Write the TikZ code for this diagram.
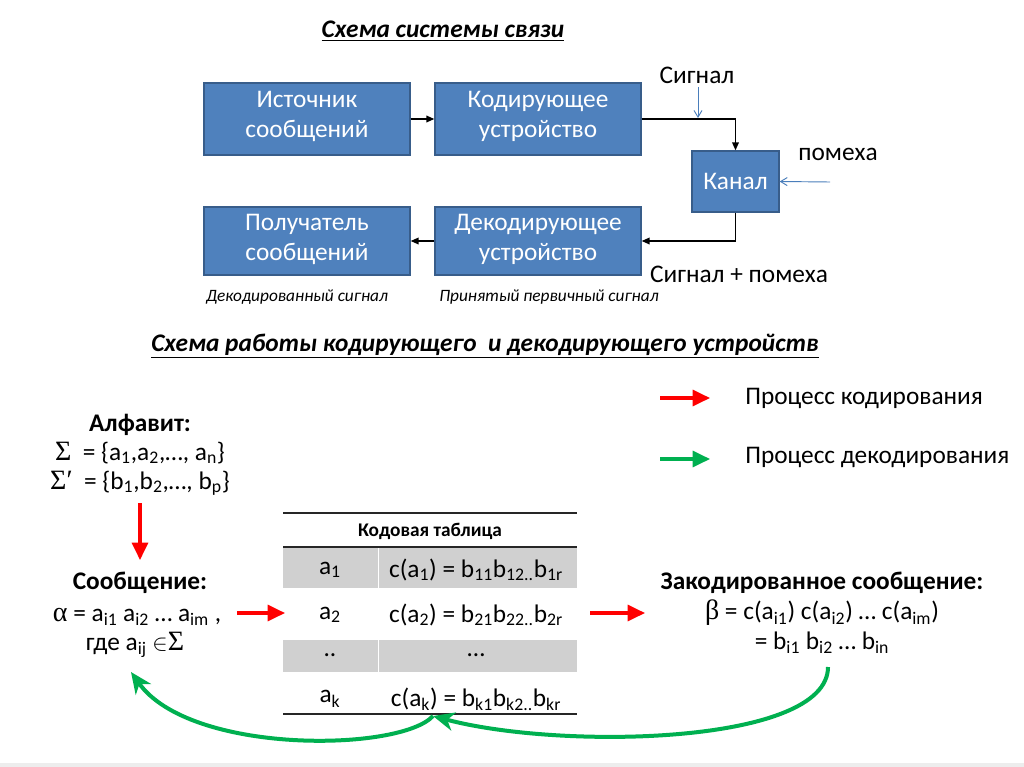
\documentclass[tikz,border=0pt]{standalone}
\usepackage{fontspec}
\setmainfont{Carlito}
\newfontfamily\symf{Liberation Serif}
\usetikzlibrary{arrows.meta}
\definecolor{boxblue}{HTML}{4F81BD}
\definecolor{boxborder}{HTML}{385D8A}
\definecolor{sigblue}{HTML}{4A7EBB}
\definecolor{arrred}{HTML}{FF0000}
\definecolor{arrgreen}{HTML}{00B050}
\definecolor{rowgray}{HTML}{D0D0D0}
\newcommand{\fs}[2]{\fontsize{#1}{#2}\selectfont}
\newcommand{\sbx}[1]{\textsubscript{#1}}
\tikzset{
  blockbox/.style={draw=boxborder, line width=1pt, fill=boxblue, text=white, font=\fs{19}{22.5}, align=center, inner sep=0pt, minimum width=154.5pt},
  blk/.style={draw=black, line width=1.1pt, -{Triangle[length=6pt,width=5pt]}},
  bluearr/.style={draw=sigblue, line width=0.7pt, -{Straight Barb[length=5pt,width=6pt]}},
  redarr/.style={draw=arrred, line width=2.3pt, -{Triangle[length=13pt,width=12pt]}},
  greenarr/.style={draw=arrgreen, line width=3pt, -{Stealth[length=16pt,width=14pt,inset=5pt]}},
  greenleg/.style={draw=arrgreen, line width=2.3pt, -{Triangle[length=13pt,width=12pt]}},
  ttl/.style={font=\fs{19}{19}\bfseries\itshape},
  lbl/.style={font=\fs{19}{19}, inner sep=0pt},
  small/.style={font=\fs{13}{13}\itshape},
  txt/.style={font=\fs{19}{19}, align=center, inner sep=0pt},
  bld/.style={font=\fs{19}{19}\bfseries, inner sep=0pt},
  cell/.style={font=\fs{19}{19}, inner sep=0pt},
  rule/.style={draw=black!85, line width=1.5pt},
}
\begin{document}
\begin{tikzpicture}[x=0.75pt,y=-0.75pt]
\useasboundingbox (0,0) rectangle (1024,767);
\fill[white] (0,0) rectangle (1024,767);
\fill[black!7] (0,763) rectangle (1024,767);

% ---- top scheme ----
\node[ttl] (t1) at (443,31) {\underline{Схема системы связи}};
\node[blockbox, minimum height=54pt, text depth=7.5pt] (src) at (307,119) {Источник\\сообщений};
\node[blockbox, minimum height=54pt, text depth=7.5pt] (enc) at (538,119) {Кодирующее\\устройство};
\node[blockbox, minimum width=65.25pt, minimum height=45.75pt] (chan) at (735.5,181.5) {Канал};
\node[blockbox, minimum height=51pt, text depth=6pt] (rcv) at (307,241) {Получатель\\сообщений};
\node[blockbox, minimum height=51pt, text depth=6pt] (dec) at (538,241) {Декодирующее\\устройство};

\draw[blk] (src.east) -- (enc.west);
\draw[blk] (enc.east) -| (chan.north);
\draw[blk] (chan.south) |- (dec.east);
\draw[blk] (dec.west) -- (rcv.east);

\node[lbl] (sig) at (697,75) {Сигнал};
\coordinate (sigend) at (698,118);
\draw[bluearr] (698,87) -- (sigend);
\node[lbl] (noise) at (838,154) {помеха};
\coordinate (nstart) at (830,182);
\draw[bluearr] (nstart) -- (chan.east);
\node[lbl] (sn) at (739,274) {Сигнал + помеха};
\node[small] (l1) at (297,297) {Декодированный сигнал};
\node[small] (l2) at (549,297) {Принятый первичный сигнал};

% ---- second scheme ----
\node[ttl] (t2) at (485,346) {\underline{Схема работы кодирующего\ \ и декодирующего устройств}};

\coordinate (lg1a) at (660,398); \coordinate (lg1b) at (710,398);
\draw[redarr] (lg1a) -- (lg1b);
\node[lbl, anchor=west] (leg1) at (745,398) {Процесс кодирования};
\coordinate (lg2a) at (660,459); \coordinate (lg2b) at (710,459);
\draw[greenleg] (lg2a) -- (lg2b);
\node[lbl, anchor=west] (leg2) at (745,457) {Процесс декодирования};

% left block
\node[bld] (alph) at (140,425) {Алфавит:};
\node[txt] (s1) at (140,453) {{\symf\fs{21}{21}Σ}\ \ = \{a\sbx{1},a\sbx{2},…, a\sbx{n}\}};
\node[txt] (s2) at (140,483) {{\symf\fs{21}{21}Σ′}\ \ = \{b\sbx{1},b\sbx{2},…, b\sbx{p}\}};
\coordinate (ra1) at (140,503); \coordinate (ra2) at (140,560);
\draw[redarr] (ra1) -- (ra2);
\node[bld] (msg) at (140,583) {Сообщение:};
\node[txt] (alpha) at (137,617) {{\symf\fs{21}{21}α} = a\sbx{i1} a\sbx{i2} … a\sbx{im} ,};
\node[txt] (where) at (135,645) {где a\sbx{ij} $\in${\symf\fs{21}{21}Σ}};

% table
\fill[rowgray] (283,547) rectangle (577,588);
\fill[rowgray] (283,640) rectangle (577,672);
\draw[white, line width=0.6pt] (378,547) -- (378,588) (378,640) -- (378,672);
\draw[rule] (283,513) -- (577,513);
\draw[rule] (283,547) -- (577,547);
\draw[rule] (283,714) -- (577,714);
\node[font=\fs{14.5}{14.5}\bfseries] (th) at (430,531) {Кодовая таблица};
\node[cell] (a1) at (330,570) {a\sbx{1}};
\node[cell] (c1) at (476,570) {c(a\sbx{1}) = b\sbx{11}b\sbx{12..}b\sbx{1r}};
\node[cell] (a2) at (330,615) {a\sbx{2}};
\node[cell] (c2) at (476,615) {c(a\sbx{2}) = b\sbx{21}b\sbx{22..}b\sbx{2r}};
\node[cell] (a3) at (330,655) {..};
\node[cell] (c3) at (476,655) {…};
\node[cell] (a4) at (330,699) {a\sbx{k}};
\node[cell] (c4) at (476,699) {c(a\sbx{k}) = b\sbx{k1}b\sbx{k2..}b\sbx{kr}};

\coordinate (rb1) at (237,613); \coordinate (rb2) at (285,613);
\draw[redarr] (rb1) -- (rb2);
\coordinate (rc1) at (590,613); \coordinate (rc2) at (645,613);
\draw[redarr] (rc1) -- (rc2);

% right block
\node[bld] (emsg) at (822,583) {Закодированное сообщение:};
\node[txt] (beta) at (822,613) {{\symf\fs{21}{21}β} = c(a\sbx{i1}) c(a\sbx{i2}) … c(a\sbx{im})};
\node[txt] (bl) at (822,643) {= b\sbx{i1} b\sbx{i2} … b\sbx{in}};

% green arrows
\coordinate (gstart) at (828,667);
\coordinate (gmid) at (433,716);
\coordinate (gend) at (131,672);
\draw[greenarr] (gstart) .. controls (828,745) and (560,750) .. (gmid);
\draw[greenarr] (gmid) .. controls (400,752) and (190,755) .. (gend);
\end{tikzpicture}
\end{document}
